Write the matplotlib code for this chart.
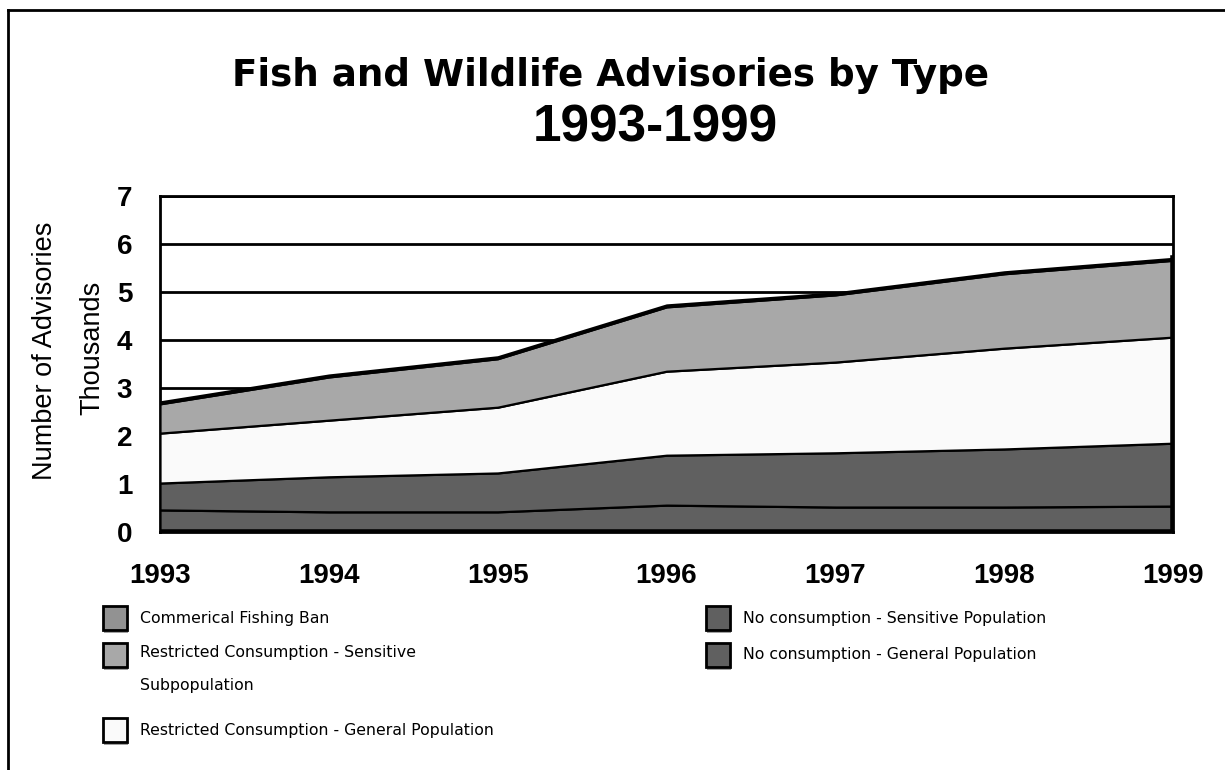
import matplotlib
matplotlib.use('Agg')
import matplotlib.pyplot as plt
from matplotlib.patches import Rectangle
from matplotlib.lines import Line2D
import numpy as np

# values in thousands of advisories
years = [1993, 1994, 1995, 1996, 1997, 1998, 1999]
no_cons_general = [0.46, 0.42, 0.42, 0.56, 0.52, 0.52, 0.54]
no_cons_sensitive = [0.56, 0.73, 0.81, 1.04, 1.13, 1.21, 1.31]
restr_general = [1.04, 1.18, 1.37, 1.75, 1.89, 2.10, 2.21]
restr_sensitive = [0.61, 0.90, 1.01, 1.34, 1.40, 1.55, 1.60]
comm_ban = [0.04, 0.04, 0.04, 0.04, 0.04, 0.04, 0.04]

labels = ['No consumption - General Population',
          'No consumption - Sensitive Population',
          'Restricted Consumption - General Population',
          'Restricted Consumption - Sensitive\nSubpopulation',
          'Commerical Fishing Ban']
colors = ['#606060', '#606060', '#fafafa', '#a8a8a8', '#929292']
y_ticks = [0, 1, 2, 3, 4, 5, 6, 7]

W, H = 1225, 770
fig = plt.figure(figsize=(W / 100, H / 100), dpi=100)
ax = fig.add_axes([160 / W, 1 - 532 / H, (1173 - 160) / W, (532 - 196) / H])

series = [no_cons_general, no_cons_sensitive, restr_general, restr_sensitive, comm_ban]
ax.stackplot(years, *series, colors=colors, edgecolor='black', linewidth=1.6, zorder=3)
# right edge of the data area
tot = np.sum(series, axis=0)
ax.plot([years[-1], years[-1]], [0, tot[-1]], color='black', lw=4, zorder=4)
ax.axhline(0, color='black', lw=4, zorder=5)

ax.set_xlim(years[0], years[-1])
ax.set_ylim(0, 7)
ax.set_yticks(y_ticks)
ax.set_xticks(years)
ax.yaxis.grid(True, color='black', lw=2, zorder=0)
ax.set_axisbelow(True)
for s in ax.spines.values():
    s.set_linewidth(2)
ax.tick_params(length=0)
ax.tick_params(axis='y', pad=20)
ax.tick_params(axis='x', pad=22)
for t in ax.get_xticklabels() + ax.get_yticklabels():
    t.set_fontfamily('Liberation Sans')
    t.set_fontweight('bold')
    t.set_fontsize(20)

fig.text(610 / W, 1 - 75 / H, 'Fish and Wildlife Advisories by Type', ha='center', va='center',
         fontsize=26.8, fontweight='bold', family='DejaVu Sans')
fig.text(655 / W, 1 - 128 / H, '1993-1999', ha='center', va='center',
         fontsize=37, fontweight='bold', family='Liberation Sans')
fig.text(45 / W, 1 - 351 / H, 'Number of Advisories', rotation=90, ha='center', va='center',
         fontsize=19.5, family='Liberation Sans')
fig.text(92 / W, 1 - 348 / H, 'Thousands', rotation=90, ha='center', va='center',
         fontsize=19.5, family='Liberation Sans')

# outer frame
fig.add_artist(Line2D([8 / W, 8 / W], [0, 1 - 10 / H], color='black', lw=2))
fig.add_artist(Line2D([8 / W, 1], [1 - 10 / H, 1 - 10 / H], color='black', lw=2))

# legend drawn by hand, two columns
legend_order = [4, 3, 2, 1, 0]
slots = [(103, 618), (103, 655), (103, 730), (706, 618), (706, 655)]
sw = 24
for idx, (lx, ly) in zip(legend_order, slots):
    fig.add_artist(Rectangle(((lx + 1) / W, 1 - (ly + sw / 2 + 3) / H), sw / W, sw / H,
                             facecolor='#a0a0a0', edgecolor='none'))
    fig.add_artist(Rectangle((lx / W, 1 - (ly + sw / 2) / H), sw / W, sw / H,
                             facecolor=colors[idx], edgecolor='black', lw=2))
    if '\n' in labels[idx]:
        fig.text((lx + 37) / W, 1 - (ly - 10) / H, labels[idx], ha='left', va='top',
                 fontsize=11.3, family='DejaVu Sans', linespacing=2.5)
    else:
        fig.text((lx + 37) / W, 1 - ly / H, labels[idx], ha='left', va='center',
                 fontsize=11.3, family='DejaVu Sans')

fig.savefig('out.png', dpi=100)
